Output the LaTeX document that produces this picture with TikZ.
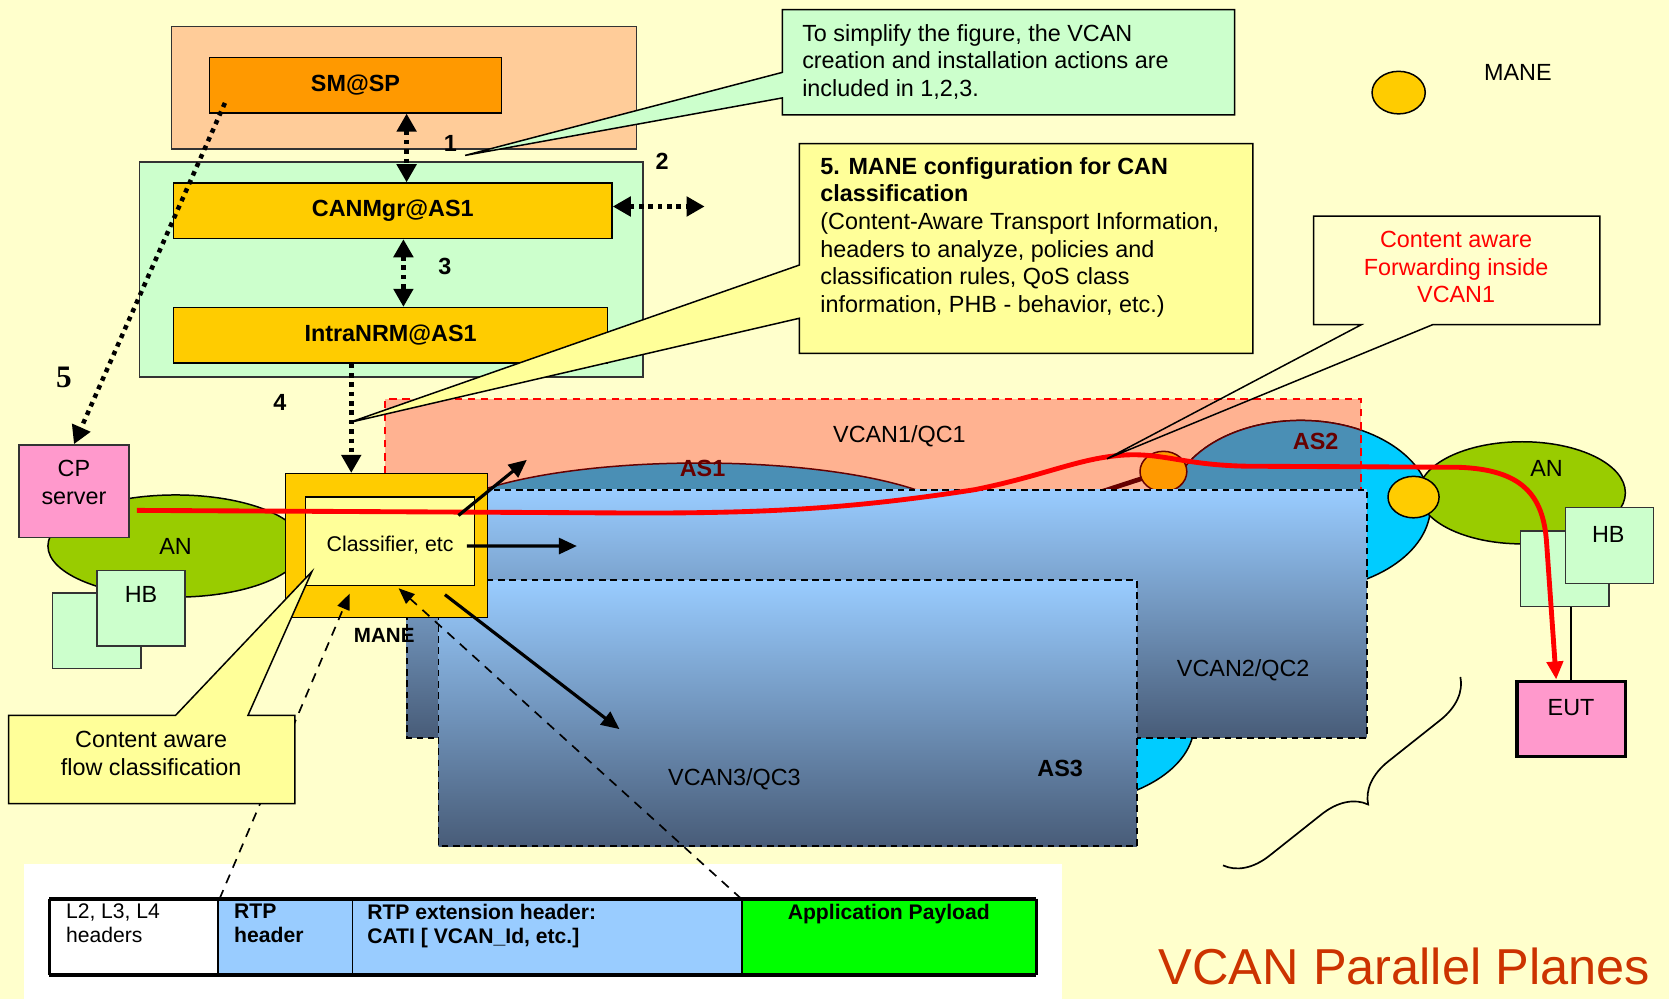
\documentclass[tikz,border=0pt]{standalone}
\usepackage{fontspec}
\setmainfont{Liberation Sans}
\newfontfamily\numserif{Liberation Serif}
\usetikzlibrary{arrows.meta,positioning,shapes.geometric,decorations.pathreplacing,calc}
\definecolor{bgyellow}{HTML}{FFFFCC}
\definecolor{peach}{HTML}{FFCC99}
\definecolor{smorange}{HTML}{FF9900}
\definecolor{gold}{HTML}{FFCC00}
\definecolor{mint}{HTML}{CCFFCC}
\definecolor{paleyellow}{HTML}{FFFF99}
\definecolor{salmon}{HTML}{FFB291}
\definecolor{steel}{HTML}{4A8FB5}
\definecolor{skycyan}{HTML}{00CCFF}
\definecolor{angreen}{HTML}{99CC00}
\definecolor{pinkbox}{HTML}{FF99CC}
\definecolor{planetop}{HTML}{99CCFF}
\definecolor{planebot}{HTML}{485C78}
\definecolor{asred}{HTML}{660000}
\definecolor{titlered}{HTML}{CC3300}
\definecolor{payload}{HTML}{00FF00}
\definecolor{edgegray}{HTML}{333333}
\newcommand\bodyfont{\fontsize{12.5}{14.8}\selectfont}
\newcommand\pktfont{\fontsize{11.3}{13}\selectfont}
\tikzset{
  mgrbox/.style={draw, rectangle, inner sep=0pt, font=\bodyfont\bfseries, minimum height=1.04cm},
  plainbox/.style={draw=edgegray, rectangle, inner sep=0pt, align=center},
  an/.style={draw, ellipse, fill=angreen, inner sep=0pt},
  hb/.style={draw=edgegray, rectangle, fill=mint, minimum width=1.66cm, minimum height=1.42cm, inner sep=0pt},
  manedot/.style={draw, ellipse, inner sep=0pt},
  note/.style={font=\bodyfont, align=left, inner sep=0pt},
  stepnum/.style={font=\bodyfont\bfseries, inner sep=0pt},
  asname/.style={font=\bodyfont\bfseries, inner sep=0pt},
  ctrl/.style={line width=2.4pt, dash pattern=on 2.4pt off 2.6pt, {Triangle[length=0.34cm,width=0.36cm]}-{Triangle[length=0.34cm,width=0.36cm]}},
  ctrlone/.style={line width=2.4pt, dash pattern=on 2.4pt off 2.6pt, -{Triangle[length=0.34cm,width=0.36cm]}},
  flow/.style={line width=1.7pt, -{Triangle[length=0.34cm,width=0.3cm]}},
  hdrlink/.style={line width=0.9pt, dash pattern=on 5pt off 4pt, -{Triangle[length=0.3cm,width=0.24cm]}},
  fwd/.style={red, line width=2.6pt, -{Triangle[length=0.34cm,width=0.3cm]}},
  plane/.style={line width=1pt, dash pattern=on 3.5pt off 2.5pt},
  cell/.style={draw, rectangle, minimum height=1.4cm, inner sep=0pt, line width=0.8pt},
  pkttext/.style={font=\pktfont, align=left, inner sep=0pt, anchor=north west}
}
\begin{document}
\begin{tikzpicture}[x=0.02cm,y=-0.02cm,font=\bodyfont,line width=0.8pt]
  \useasboundingbox (0,0) rectangle (1568,939);
  \clip (0,0) rectangle (1568,939);
  \fill[bgyellow] (0,0) rectangle (1568,939);
  \fill[white] (23,812) rectangle (998,939);

  \draw[draw=edgegray, fill=peach] (161,25) rectangle (598,140);
  \node[mgrbox, fill=smorange, minimum width=5.48cm] (sm) at (334,80) {SM@SP};
  \draw[draw=edgegray, fill=mint] (131,152) rectangle (604,354);
  \node[mgrbox, fill=gold, minimum width=8.24cm] (canmgr) at (369,198) {CANMgr@AS1};
  \node[mgrbox, fill=gold, minimum width=8.16cm] (intranrm) at (367,315) {IntraNRM@AS1};
  \coordinate (c1top) at ([shift={(48,0)}]sm.south);
  \coordinate (c1bot) at (c1top |- canmgr.north);
  \coordinate (c3top) at ([shift={(10,0)}]canmgr.south);
  \coordinate (c3bot) at (c3top |- intranrm.north);
  \coordinate (c2out) at (662,194);
  \draw[ctrl] (c1top) -- (c1bot);
  \draw[ctrl] ([shift={(0,-4)}]canmgr.east) -- (c2out);
  \draw[ctrl] (c3top) -- (c3bot);

  \fill[salmon] (362,375) rectangle (1279,470);
  \filldraw[fill=steel, draw=asred] (657,495) ellipse [x radius=250, y radius=60];
  \filldraw[fill=skycyan, draw=black] (1222,475) ellipse [x radius=122, y radius=80];
  \begin{scope}
    \clip (362,375) rectangle (1279,470);
    \filldraw[fill=steel, draw=asred] (1222,475) ellipse [x radius=122, y radius=80];
  \end{scope}
  \draw[red, line width=1pt, dash pattern=on 4pt off 3pt] (362,445) -- (362,375) -- (1279,375) -- (1279,460);
  \filldraw[fill=skycyan, draw=black] (1000,680) ellipse [x radius=122, y radius=75];
  \coordinate (orngc) at (1093,443);
  \coordinate (aslink) at (1010,470);
  \draw[asred, line width=2.5pt] (orngc) -- (aslink);
  \node[manedot, fill=smorange, draw=asred, minimum width=0.88cm, minimum height=0.76cm] (orngdot) at (orngc) {};
  \node[an, minimum width=3.88cm, minimum height=1.92cm] (anr) at (1430,463) {};
  \node[manedot, fill=gold, minimum width=0.96cm, minimum height=0.78cm] (ylwdot) at (1328,467) {};

  \shade[top color=planetop, middle color=planetop!72!planebot, bottom color=planebot] (382,460) rectangle (1284,693);
  \draw[plane] (382,460) rectangle (1284,693);
  \shade[top color=planetop, middle color=planetop!72!planebot, bottom color=planebot] (412,545) rectangle (1068,795);
  \draw[plane] (412,545) rectangle (1068,795);

  \node (vcan1) at (845,410) {VCAN1/QC1};
  \node[asname, text=asred] (as1) at (660,440) {AS1};
  \node[asname, text=asred] (as2) at (1236,415) {AS2};
  \node (vcan2) at (1168,630) {VCAN2/QC2};
  \node (vcan3) at (690,732) {VCAN3/QC3};
  \node[asname] (as3) at (996,722) {AS3};

  \node (anrtext) at ([shift={(23,-23)}]anr.center) {AN};
  \node[hb] (hbrb) at (1470,534.5) {};
  \node[hb] (hbr) at (1512,512.5) {};
  \node (hbrtext) at ([shift={(-1,-10)}]hbr.center) {HB};
  \node[plainbox, fill=pinkbox, draw=black, line width=1.8pt, minimum width=2.04cm, minimum height=1.42cm] (eut) at (1476,675.5) {};
  \node (euttext) at ([shift={(0,-11)}]eut.center) {EUT};
  \draw[line width=1.2pt] (hbrb.south -| eut.north) -- (eut.north);

  \node[an, minimum width=4.8cm, minimum height=1.92cm] (anl) at (165,513) {AN};
  \node[hb] (hblb) at (91,592.5) {};
  \node[hb] (hbl) at (132.5,571.5) {};
  \node (hbltext) at ([shift={(0,-13)}]hbl.center) {HB};
  \node[plainbox, fill=pinkbox, minimum width=2.06cm, minimum height=1.74cm] (cp) at (69.5,461.5) {};
  \node[align=center] (cptext) at ([shift={(0,-8)}]cp.center) {CP\\server};

  \node[draw, fill=gold, inner sep=0pt, minimum width=3.8cm, minimum height=2.7cm] (mane) at (363,512.5) {};
  \node[draw, fill=paleyellow, inner sep=0pt, minimum width=3.18cm, minimum height=1.66cm] (classifier) at (366.5,508.5) {};
  \node[font=\fontsize{11.4}{13}\selectfont] (classtext) at ([shift={(0,4)}]classifier.center) {Classifier, etc};
  \node[font=\fontsize{11}{13}\selectfont\bfseries] (manetext) at (361,597) {MANE};

  \draw[fwd] ([shift={(7,18)}]cp.east) -- (600,482) .. controls (720,482) and (800,478) .. (916,460) .. controls (980,447) and (1010,432) .. (1050,428) .. controls (1090,424) and (1110,437) .. (1172,438) -- (1370,439) .. controls (1430,441) and (1450,465) .. (1453,510) -- ([shift={(-14,0)}]eut.north);

  \coordinate (toqc1) at (495,432);
  \coordinate (toqc2) at (542,513);
  \coordinate (toqc3) at (582,685);
  \draw[flow] ([shift={(-16,18)}]classifier.north east) -- (toqc1);
  \draw[flow] ([shift={(-8,4.5)}]classifier.east) -- (toqc2);
  \draw[flow] ([shift={(51.5,8)}]classifier.south) -- (toqc3);

  \node[cell, fill=white, minimum width=3.16cm] (l2cell) at (126,880) {};
  \node[cell, fill=planetop, minimum width=2.52cm] (rtpcell) at (268,880) {};
  \node[cell, fill=planetop, minimum width=7.32cm] (extcell) at (514,880) {};
  \node[cell, fill=payload, minimum width=5.52cm] (paycell) at (835,880) {};
  \draw[line width=2.2pt] (l2cell.north west) -- (paycell.north east);
  \draw[line width=2.2pt] (l2cell.south west) -- (paycell.south east);
  \draw[line width=1.6pt] (l2cell.north west) -- (l2cell.south west);
  \draw[line width=1.6pt] (paycell.north east) -- (paycell.south east);
  \node[pkttext] (l2text) at ([shift={(15,4)}]l2cell.north west) {L2, L3, L4\\headers};
  \node[pkttext, font=\pktfont\bfseries] (rtptext) at ([shift={(15,4)}]rtpcell.north west) {RTP\\header};
  \node[pkttext, font=\pktfont\bfseries] (exttext) at ([shift={(14,4)}]extcell.north west) {RTP extension header:\\CATI [ VCAN\_Id, etc.]};
  \node[pkttext, font=\pktfont\bfseries, anchor=north] (paytext) at ([shift={(0,4)}]paycell.north) {Application Payload};

  \draw[hdrlink] ([shift={(2,0)}]rtpcell.north west) -- ([shift={(-38,7)}]classifier.south);
  \draw[hdrlink] (paycell.north west) -- ([shift={(8,2)}]classifier.south);

  \filldraw[fill=mint] (735,9) -- (1160,9) -- (1160,108) -- (735,108) -- (735,92) -- (437,146) -- (735,68) -- cycle;
  \node[note, anchor=west] (simplenote) at (753,58) {To simplify the figure, the VCAN\\creation and installation actions are\\included in 1,2,3.};
  \filldraw[fill=paleyellow] (751,135) -- (1177,135) -- (1177,332) -- (751,332) -- (751,299) -- (328,397) -- (751,249) -- cycle;
  \node[note, anchor=west] (manenote) at (770,223) {\textbf{5. MANE configuration for CAN}\\\textbf{classification}\\(Content-Aware Transport Information,\\headers to analyze, policies and\\classification rules, QoS class\\information, PHB - behavior, etc.)};
  \fill[bgyellow] (1234,203) rectangle (1503,305);
  \draw (1234,203) -- (1503,203) -- (1503,305) -- (1346,305) -- (1040,431) -- (1279,305) -- (1234,305) -- cycle;
  \node[align=center, text=red] (fwdnote) at (1368,251) {Content aware\\Forwarding inside\\VCAN1};
  \filldraw[fill=paleyellow] (8,672) -- (165,672) -- (293,537) -- (233,672) -- (277,672) -- (277,755) -- (8,755) -- cycle;
  \node[align=center] (flownote) at (142,708) {Content aware\\flow classification};

  \coordinate (c4top) at ([shift={(-37,0)}]intranrm.south);
  \coordinate (c4bot) at (c4top |- mane.north);
  \draw[ctrlone] (c4top) -- (c4bot);
  \draw[ctrlone] ([shift={(15,-10)}]sm.south west) -- (cp.north);

  \node[stepnum] (num1) at (423,135) {1};
  \node[stepnum] (num2) at (622,152) {2};
  \node[stepnum] (num3) at (418,250) {3};
  \node[stepnum] (num4) at (263,378) {4};
  \node[inner sep=0pt, font=\numserif\fontsize{16.7}{18}\selectfont\bfseries] (num5) at (60,355) {5};

  \node[manedot, fill=gold, minimum width=1cm, minimum height=0.8cm] (legdot) at (1314,87) {};
  \node (legtext) at (1426,68) {MANE};

  \draw[decorate, decoration={brace, amplitude=0.8cm}, line width=0.9pt] (1372,636) -- (1149,813);
  \node[anchor=base west, inner sep=0pt, font=\fontsize{27}{32}\selectfont, text=titlered] (title) at (1088,925) {VCAN Parallel Planes};
\end{tikzpicture}
\end{document}
